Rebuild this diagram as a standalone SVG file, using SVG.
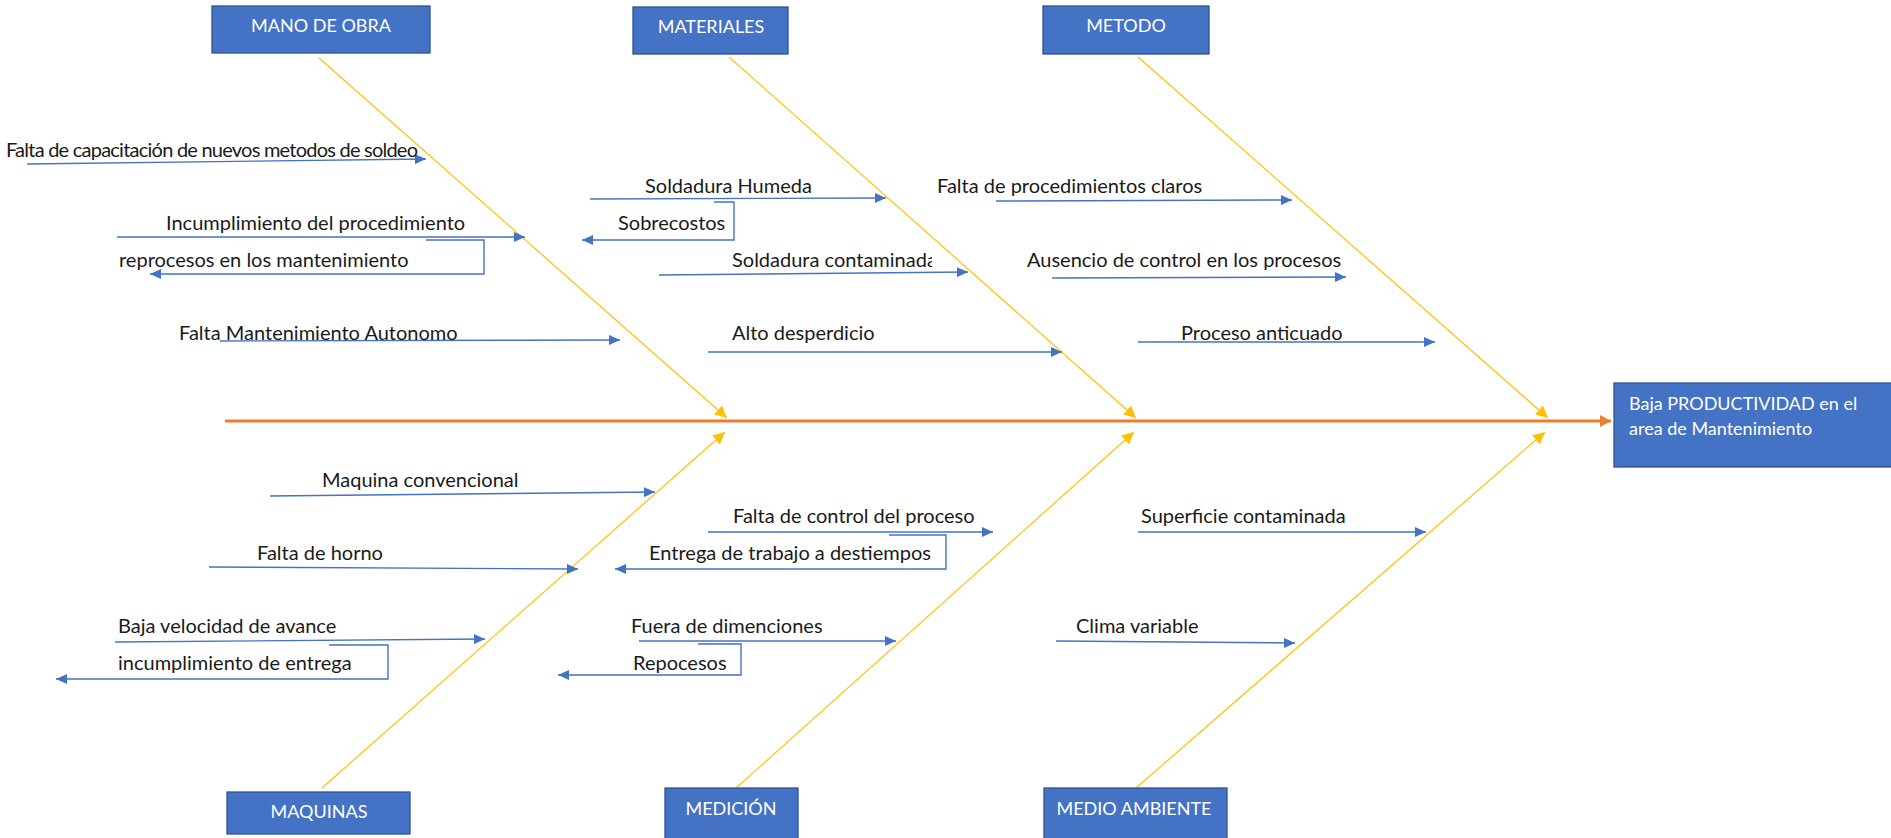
<svg xmlns="http://www.w3.org/2000/svg" width="1891" height="838" viewBox="0 0 1891 838">
  <style>
    .box { fill: #4472C4; stroke: #2F528F; stroke-width: 1.3; }
    .btxt { font-family: Lato, "Liberation Sans", sans-serif; font-size: 18px; fill: #FFFFFF; }
    .lbl { font-family: Lato, "Liberation Sans", sans-serif; font-size: 20px; fill: #1a1a1a; }
    .sub { fill: none; stroke: #4472C4; stroke-width: 1.4; marker-end: url(#blue); }
    .bone { fill: none; stroke: #FFC000; stroke-width: 1.2; marker-end: url(#yel); }
    .spine { fill: none; stroke: #ED7D31; stroke-width: 3; marker-end: url(#org); }
  </style>
  <defs>
    <marker id="blue" markerUnits="userSpaceOnUse" markerWidth="12" markerHeight="10" refX="11" refY="5" orient="auto">
      <path d="M0,0 L11,5 L0,10 z" fill="#4472C4"/>
    </marker>
    <marker id="yel" markerUnits="userSpaceOnUse" markerWidth="13" markerHeight="12" refX="12" refY="6" orient="auto">
      <path d="M0,0 L12,6 L0,12 z" fill="#FFC000"/>
    </marker>
    <marker id="org" markerUnits="userSpaceOnUse" markerWidth="12" markerHeight="12" refX="11" refY="6" orient="auto">
      <path d="M0,0 L11,6 L0,12 z" fill="#ED7D31"/>
    </marker>
    <clipPath id="clipSC">
      <rect x="700" y="240" width="232" height="40"/>
    </clipPath>
  </defs>
  <rect width="1891" height="838" fill="#FFFFFF"/>

  <g id="connectors">
    <line class="spine" x1="225" y1="421" x2="1611" y2="421"/>
    <line class="bone" x1="319" y1="58" x2="727" y2="418"/>
    <line class="bone" x1="729" y1="57" x2="1136" y2="418"/>
    <line class="bone" x1="1138" y1="57" x2="1548" y2="418"/>
    <line class="bone" x1="322" y1="788" x2="725" y2="432"/>
    <line class="bone" x1="736" y1="788" x2="1134" y2="432"/>
    <line class="bone" x1="1136" y1="788" x2="1545" y2="432"/>

    <path class="sub" d="M27,164 L426,159"/>
    <path class="sub" d="M117,237 L525,237"/>
    <path class="sub" d="M426,240 H484 V274 H150"/>
    <path class="sub" d="M220,341 L620,340"/>
    <path class="sub" d="M590,199 L886,198"/>
    <path class="sub" d="M714,202 H734 V240 H582"/>
    <path class="sub" d="M659,275 L968,272"/>
    <path class="sub" d="M708,352 L1062,352"/>
    <path class="sub" d="M996,201 L1292,200"/>
    <path class="sub" d="M1052,278 L1346,277"/>
    <path class="sub" d="M1138,342 L1435,342"/>
    <path class="sub" d="M270,496 L655,492"/>
    <path class="sub" d="M209,567 L578,569"/>
    <path class="sub" d="M115,642 L485,639"/>
    <path class="sub" d="M329,645 H388 V679 H56"/>
    <path class="sub" d="M708,532 L993,532"/>
    <path class="sub" d="M889,535 H946 V569 H615"/>
    <path class="sub" d="M639,641 L896,641"/>
    <path class="sub" d="M698,644 H741 V675 H558"/>
    <path class="sub" d="M1138,532 L1426,532"/>
    <path class="sub" d="M1056,641 L1295,643"/>
  </g>

  <g id="labels">
    <text class="lbl" x="6" y="157" textLength="412" lengthAdjust="spacing">Falta de capacitación de nuevos metodos de soldeo</text>
    <text class="lbl" x="166" y="230">Incumplimiento del procedimiento</text>
    <text class="lbl" x="119" y="267">reprocesos en los mantenimiento</text>
    <text class="lbl" x="179" y="340">Falta Mantenimiento Autonomo</text>
    <text class="lbl" x="645" y="193">Soldadura Humeda</text>
    <text class="lbl" x="618" y="230">Sobrecostos</text>
    <text class="lbl" x="732" y="267" clip-path="url(#clipSC)">Soldadura contaminada</text>
    <text class="lbl" x="732" y="340">Alto desperdicio</text>
    <text class="lbl" x="937" y="193">Falta de procedimientos claros</text>
    <text class="lbl" x="1027" y="267">Ausencio de control en los procesos</text>
    <text class="lbl" x="1181" y="340">Proceso anticuado</text>
    <text class="lbl" x="322" y="487">Maquina convencional</text>
    <text class="lbl" x="257" y="560">Falta de horno</text>
    <text class="lbl" x="118" y="633">Baja velocidad de avance</text>
    <text class="lbl" x="118" y="670">incumplimiento de entrega</text>
    <text class="lbl" x="733" y="523">Falta de control del proceso</text>
    <text class="lbl" x="649" y="560">Entrega de trabajo a destiempos</text>
    <text class="lbl" x="631" y="633">Fuera de dimenciones</text>
    <text class="lbl" x="633" y="670">Repocesos</text>
    <text class="lbl" x="1141" y="523">Superficie contaminada</text>
    <text class="lbl" x="1076" y="633">Clima variable</text>
  </g>

  <g id="mano-de-obra">
    <rect class="box" x="212" y="6" width="218" height="47"/>
    <text class="btxt" x="321" y="32" text-anchor="middle">MANO DE OBRA</text>
  </g>
  <g id="materiales">
    <rect class="box" x="633" y="7" width="155" height="47"/>
    <text class="btxt" x="711" y="33" text-anchor="middle">MATERIALES</text>
  </g>
  <g id="metodo">
    <rect class="box" x="1043" y="6" width="166" height="48"/>
    <text class="btxt" x="1126" y="32" text-anchor="middle">METODO</text>
  </g>
  <g id="maquinas">
    <rect class="box" x="227" y="792" width="183" height="42"/>
    <text class="btxt" x="319" y="818" text-anchor="middle">MAQUINAS</text>
  </g>
  <g id="medicion">
    <rect class="box" x="665" y="788" width="133" height="55"/>
    <text class="btxt" x="731" y="815" text-anchor="middle">MEDICIÓN</text>
  </g>
  <g id="medio-ambiente">
    <rect class="box" x="1044" y="788" width="183" height="55"/>
    <text class="btxt" x="1134" y="815" text-anchor="middle">MEDIO AMBIENTE</text>
  </g>
  <g id="efecto">
    <rect class="box" x="1614" y="383" width="285" height="84"/>
    <text class="btxt" x="1629" y="410">Baja PRODUCTIVIDAD en el</text>
    <text class="btxt" x="1629" y="435">area de Mantenimiento</text>
  </g>
</svg>
